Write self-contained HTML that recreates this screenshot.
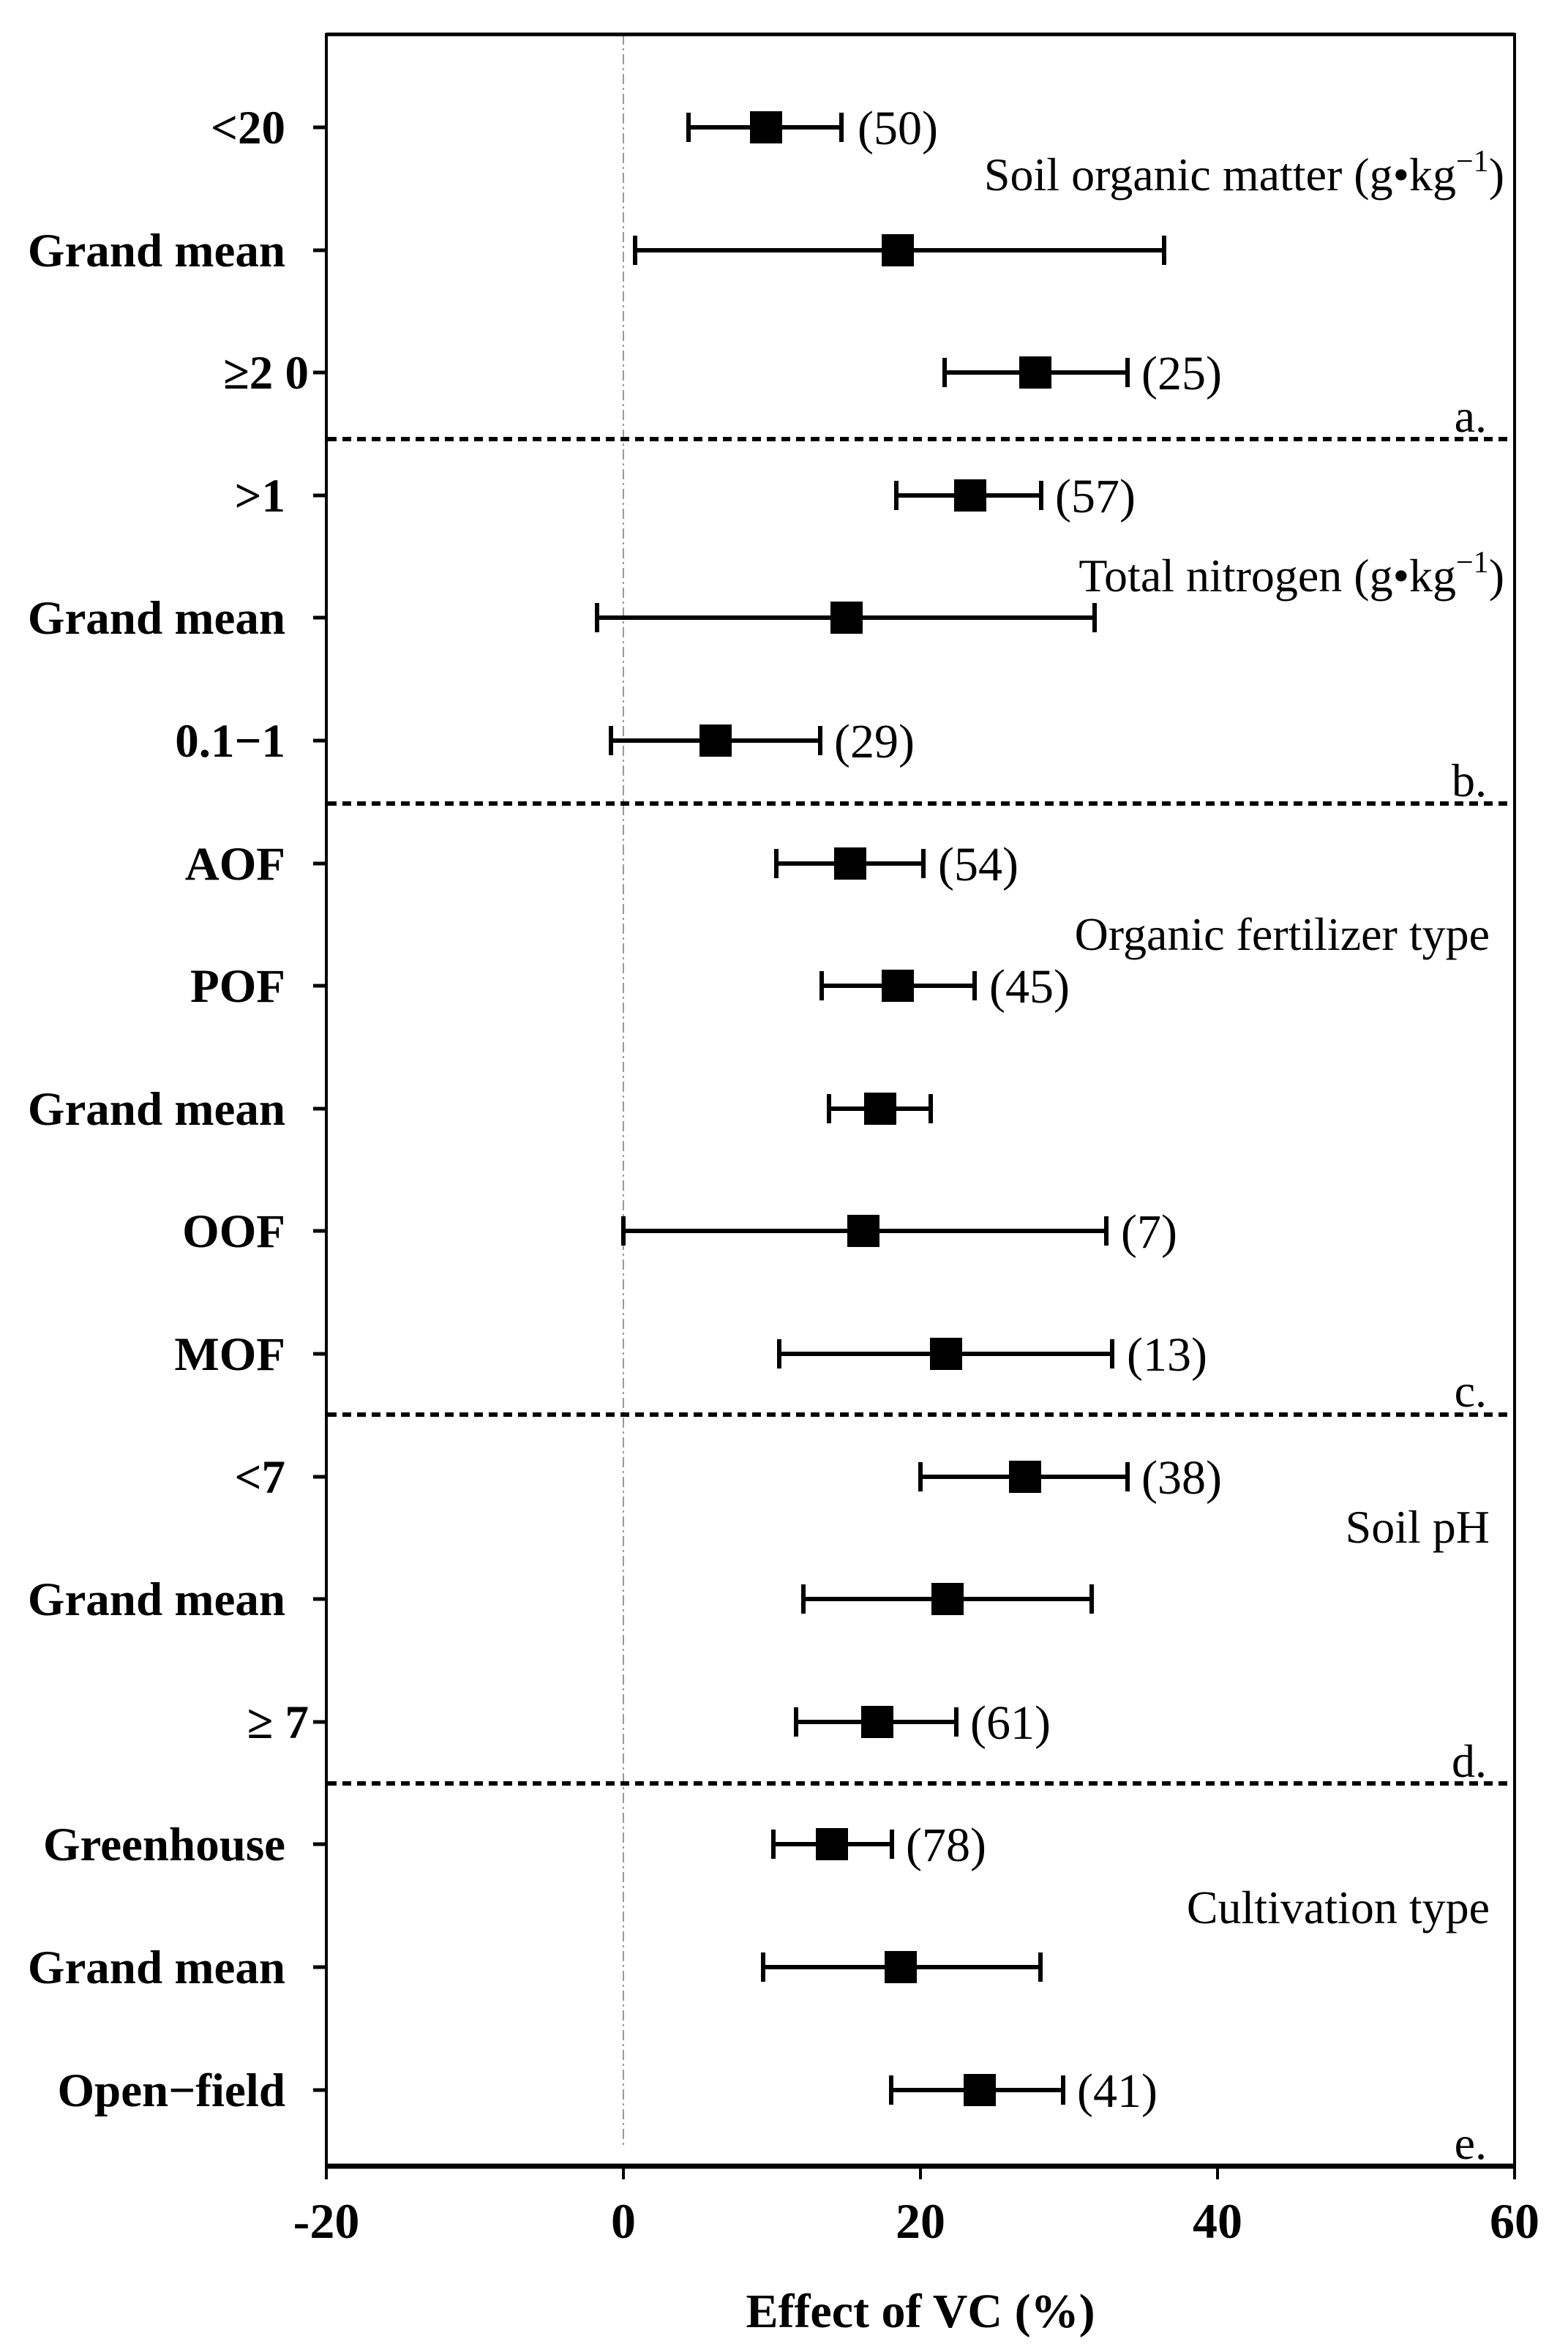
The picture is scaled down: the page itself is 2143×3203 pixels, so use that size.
<!DOCTYPE html>
<html><head><meta charset="utf-8"><style>
html,body{margin:0;padding:0;background:#fff;}
svg{display:block;}
text{font-family:"Liberation Serif","DejaVu Serif",serif;fill:#000;}
.yl{font-size:65px;font-weight:bold;text-anchor:end;}
.n{font-size:66px;}
.t{font-size:64px;text-anchor:end;}
.xl{font-size:68px;font-weight:bold;text-anchor:middle;}
</style></head><body>
<svg width="2143" height="3203" viewBox="0 0 2143 3203" xmlns="http://www.w3.org/2000/svg">
<rect width="2143" height="3203" fill="#fff"/>
<line x1="852" y1="47" x2="852" y2="2932" stroke="#999" stroke-width="2" stroke-dasharray="14,5,3,5"/>
<line x1="446" y1="47" x2="2070" y2="47" stroke="#000" stroke-width="5"/>
<line x1="446" y1="45" x2="446" y2="2963" stroke="#000" stroke-width="4"/>
<line x1="2070" y1="45" x2="2070" y2="2963" stroke="#000" stroke-width="4"/>
<line x1="444" y1="2960" x2="2072" y2="2960" stroke="#000" stroke-width="7"/>
<g stroke="#000" stroke-width="6" stroke-dasharray="12,8">
<line x1="448" y1="600" x2="2068" y2="600"/>
<line x1="448" y1="1098" x2="2068" y2="1098"/>
<line x1="448" y1="1933" x2="2068" y2="1933"/>
<line x1="448" y1="2437" x2="2068" y2="2437"/>
</g>
<g stroke="#000" stroke-width="4">
<line x1="446" y1="2960" x2="446" y2="2978"/><line x1="852" y1="2960" x2="852" y2="2978"/>
<line x1="1258" y1="2960" x2="1258" y2="2978"/><line x1="1664" y1="2960" x2="1664" y2="2978"/>
<line x1="2070" y1="2960" x2="2070" y2="2978"/>
</g>
<text x="446" y="3058" class="xl">-20</text><text x="852" y="3058" class="xl">0</text>
<text x="1258" y="3058" class="xl">20</text><text x="1664" y="3058" class="xl">40</text>
<text x="2070" y="3058" class="xl">60</text>
<text x="1258" y="3180" class="xl" style="font-size:66px">Effect of VC (%)</text>
<g stroke="#000" stroke-width="5">
<line x1="428" y1="174" x2="446" y2="174"/><line x1="428" y1="342" x2="446" y2="342"/><line x1="428" y1="509" x2="446" y2="509"/>
<line x1="428" y1="677" x2="446" y2="677"/><line x1="428" y1="844" x2="446" y2="844"/><line x1="428" y1="1012" x2="446" y2="1012"/>
<line x1="428" y1="1180" x2="446" y2="1180"/><line x1="428" y1="1347" x2="446" y2="1347"/><line x1="428" y1="1515" x2="446" y2="1515"/>
<line x1="428" y1="1682" x2="446" y2="1682"/><line x1="428" y1="1850" x2="446" y2="1850"/><line x1="428" y1="2018" x2="446" y2="2018"/>
<line x1="428" y1="2185" x2="446" y2="2185"/><line x1="428" y1="2353" x2="446" y2="2353"/><line x1="428" y1="2520" x2="446" y2="2520"/>
<line x1="428" y1="2688" x2="446" y2="2688"/><line x1="428" y1="2856" x2="446" y2="2856"/>
</g>
<text class="yl" x="390" y="196">&lt;20</text>
<text class="yl" x="390" y="364">Grand mean</text>
<text class="yl" x="422" y="531">≥2 0</text>
<text class="yl" x="390" y="699">&gt;1</text>
<text class="yl" x="390" y="866">Grand mean</text>
<text class="yl" x="390" y="1034">0.1−1</text>
<text class="yl" x="390" y="1202">AOF</text>
<text class="yl" x="390" y="1369">POF</text>
<text class="yl" x="390" y="1537">Grand mean</text>
<text class="yl" x="390" y="1704">OOF</text>
<text class="yl" x="390" y="1872">MOF</text>
<text class="yl" x="390" y="2040">&lt;7</text>
<text class="yl" x="390" y="2207">Grand mean</text>
<text class="yl" x="422" y="2375">≥ 7</text>
<text class="yl" x="390" y="2542">Greenhouse</text>
<text class="yl" x="390" y="2710">Grand mean</text>
<text class="yl" x="390" y="2878">Open−field</text>
<g stroke="#000" stroke-width="6" fill="none">
<path d="M941 174H1150M941 154V194M1150 154V194"/>
<path d="M868 342H1591M868 322V362M1591 322V362"/>
<path d="M1291 509H1541M1291 489V529M1541 489V529"/>
<path d="M1225 677H1423M1225 657V697M1423 657V697"/>
<path d="M816 844H1496M816 824V864M1496 824V864"/>
<path d="M835 1012H1121M835 992V1032M1121 992V1032"/>
<path d="M1061 1180H1262M1061 1160V1200M1262 1160V1200"/>
<path d="M1123 1347H1332M1123 1327V1367M1332 1327V1367"/>
<path d="M1133 1515H1272M1133 1495V1535M1272 1495V1535"/>
<path d="M852 1682H1512M852 1662V1702M1512 1662V1702"/>
<path d="M1065 1850H1520M1065 1830V1870M1520 1830V1870"/>
<path d="M1258 2018H1541M1258 1998V2038M1541 1998V2038"/>
<path d="M1098 2185H1492M1098 2165V2205M1492 2165V2205"/>
<path d="M1088 2353H1307M1088 2333V2373M1307 2333V2373"/>
<path d="M1057 2520H1219M1057 2500V2540M1219 2500V2540"/>
<path d="M1043 2688H1422M1043 2668V2708M1422 2668V2708"/>
<path d="M1218 2856H1453M1218 2836V2876M1453 2836V2876"/>
</g>
<g fill="#000">
<rect x="1025" y="152" width="44" height="44"/>
<rect x="1205" y="320" width="44" height="44"/>
<rect x="1393" y="487" width="44" height="44"/>
<rect x="1304" y="655" width="44" height="44"/>
<rect x="1135" y="822" width="44" height="44"/>
<rect x="956" y="990" width="44" height="44"/>
<rect x="1140" y="1158" width="44" height="44"/>
<rect x="1205" y="1325" width="44" height="44"/>
<rect x="1181" y="1493" width="44" height="44"/>
<rect x="1158" y="1660" width="44" height="44"/>
<rect x="1271" y="1828" width="44" height="44"/>
<rect x="1379" y="1996" width="44" height="44"/>
<rect x="1273" y="2163" width="44" height="44"/>
<rect x="1177" y="2331" width="44" height="44"/>
<rect x="1115" y="2498" width="44" height="44"/>
<rect x="1209" y="2666" width="44" height="44"/>
<rect x="1317" y="2834" width="44" height="44"/>
</g>
<text class="n" x="1172" y="197">(50)</text>
<text class="n" x="1560" y="532">(25)</text>
<text class="n" x="1442" y="700">(57)</text>
<text class="n" x="1140" y="1035">(29)</text>
<text class="n" x="1282" y="1203">(54)</text>
<text class="n" x="1352" y="1370">(45)</text>
<text class="n" x="1532" y="1705">(7)</text>
<text class="n" x="1540" y="1873">(13)</text>
<text class="n" x="1560" y="2041">(38)</text>
<text class="n" x="1326" y="2376">(61)</text>
<text class="n" x="1238" y="2543">(78)</text>
<text class="n" x="1472" y="2879">(41)</text>
<text class="t" x="2056" y="260">Soil organic matter (g•kg<tspan font-size="42" dy="-26">−1</tspan><tspan dy="26">)</tspan></text>
<text class="t" x="2056" y="808">Total nitrogen (g•kg<tspan font-size="42" dy="-26">−1</tspan><tspan dy="26">)</tspan></text>
<text class="t" x="2036" y="1298">Organic fertilizer type</text>
<text class="t" x="2036" y="2108">Soil pH</text>
<text class="t" x="2036" y="2628">Cultivation type</text>
<text class="t" x="2032" y="590">a.</text>
<text class="t" x="2032" y="1088">b.</text>
<text class="t" x="2032" y="1922">c.</text>
<text class="t" x="2032" y="2428">d.</text>
<text class="t" x="2032" y="2950">e.</text>
</svg>
</body></html>
